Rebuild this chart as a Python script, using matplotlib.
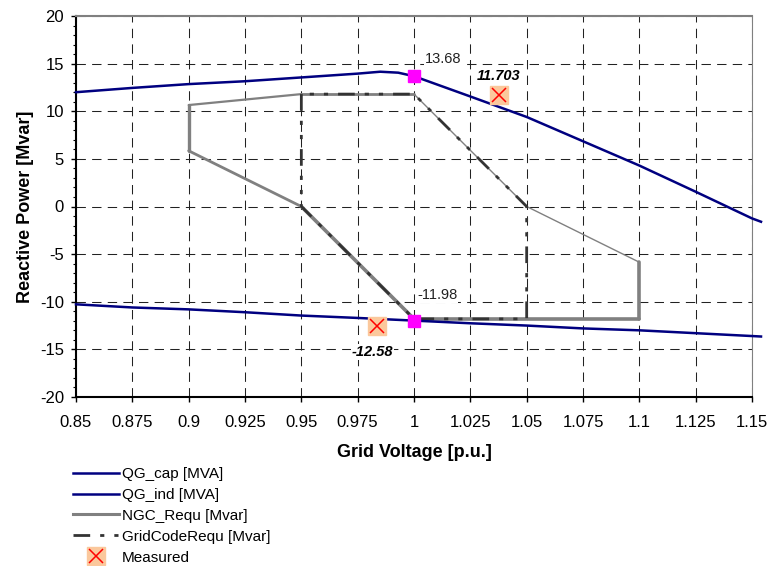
import matplotlib
matplotlib.use("Agg")
import matplotlib.pyplot as plt
from matplotlib.collections import LineCollection
import numpy as np

plt.rcParams['font.family'] = ['Liberation Sans', 'DejaVu Sans']
plt.rcParams['axes.unicode_minus'] = False

# capability curves
qcap_v = [0.85, 0.875, 0.9, 0.925, 0.95, 0.975, 0.985, 0.993, 1.0, 1.025, 1.05, 1.075, 1.1, 1.125, 1.15, 1.154]
qcap_q = [12.0, 12.45, 12.85, 13.15, 13.55, 13.95, 14.15, 14.05, 13.68, 11.55, 9.4, 6.85, 4.3, 1.55, -1.25, -1.6]

qind_v = [0.85, 0.875, 0.9, 0.925, 0.95, 0.975, 1.0, 1.025, 1.05, 1.075, 1.1, 1.125, 1.15, 1.154]
qind_q = [-10.27, -10.6, -10.8, -11.1, -11.45, -11.7, -11.98, -12.26, -12.5, -12.8, -13.0, -13.3, -13.6, -13.65]

# NGC requirement polygon
ngc_v = [0.9, 0.95, 1.0, 1.05, 1.1, 1.1, 1.0, 0.95, 0.9, 0.9]
ngc_q = [10.65, 11.8, 11.8, 0.0, -5.85, -11.8, -11.8, 0.0, 5.85, 10.65]
ngc_lw = [1.6, 2.0, 1.0, 1.0, 2.6, 2.6, 2.6, 2.0, 2.4]   # width per segment

# grid code requirement
gc_v = [0.95, 0.95, 1.0, 1.05, 1.05, 1.0, 0.95]
gc_q = [11.8, 0.0, -11.8, -11.8, 0.0, 11.8, 11.8]

# operating points
op_v = [1.0, 1.0]
op_q = [13.68, -11.98]
meas_v = [1.0376, 0.9838]
meas_q = [11.703, -12.58]

xticks = [0.85, 0.875, 0.9, 0.925, 0.95, 0.975, 1.0, 1.025, 1.05, 1.075, 1.1, 1.125, 1.15]
xtick_labels = ['0.85', '0.875', '0.9', '0.925', '0.95', '0.975', '1', '1.025', '1.05', '1.075', '1.1', '1.125', '1.15']
yticks = [-20, -15, -10, -5, 0, 5, 10, 15, 20]

fig = plt.figure(figsize=(7.68, 5.66), dpi=100)
ax = fig.add_axes([76/768, 1-397/566, 676/768, 381/566])

ax.set_xlim(0.85, 1.15)
ax.set_ylim(-20, 20)
ax.set_xticks(xticks)
ax.set_xticklabels(xtick_labels)
ax.set_yticks(yticks)
ax.set_yticks(np.arange(-20, 21, 1), minor=True)
ax.tick_params(axis='both', which='major', labelsize=12, length=3.6, width=1, direction='out')
ax.tick_params(axis='x', which='major', pad=9.5)
ax.tick_params(axis='y', which='major', pad=5)
ax.tick_params(axis='y', which='minor', length=2.2, width=0.8, direction='out')
ax.grid(True, which='major', color='#222222', linestyle=(0, (9, 6)), linewidth=0.75)
ax.set_axisbelow(True)

for s in ['left', 'bottom']:
    ax.spines[s].set_color('black')
    ax.spines[s].set_linewidth(1.5)
ax.spines['top'].set_color('#808080')
ax.spines['top'].set_linewidth(1.5)
ax.spines['right'].set_color('#808080')
ax.spines['right'].set_linewidth(0.8)

# NGC polygon with varying segment widths
pts = np.column_stack([ngc_v, ngc_q])
segs = [pts[i:i+2] for i in range(len(pts)-1)]
lc = LineCollection(segs, colors='#808080', linewidths=ngc_lw, zorder=3, capstyle='round')
ax.add_collection(lc)
ngc_handle, = ax.plot([], [], color='#808080', lw=2.2, label='NGC_Requ [Mvar]')

gc_line, = ax.plot(gc_v, gc_q, color='#333333', lw=2.0, linestyle=(0, (6, 3.6, 1.5, 3.6, 1.5, 3.6)),
                   zorder=4, label='GridCodeRequ [Mvar]')

cap_line, = ax.plot(qcap_v, qcap_q, color='#000080', lw=1.8, zorder=5, clip_on=False, label='QG_cap [MVA]')
ind_line, = ax.plot(qind_v, qind_q, color='#000080', lw=1.8, zorder=5, clip_on=False, label='QG_ind [MVA]')

ax.plot(op_v, op_q, linestyle='none', marker='s', markersize=8, color='#FF00FF', zorder=7)

m_sq, = ax.plot(meas_v, meas_q, linestyle='none', marker='s', markersize=12.5, color='#FBC89C', zorder=6)
m_x, = ax.plot(meas_v, meas_q, linestyle='none', marker='x', markersize=10, markeredgewidth=1.1,
               color='#FF0000', zorder=6)

# value labels
ax.annotate('13.68', (op_v[0], op_q[0]), xytext=(7.9, 12.2), textcoords='offset points',
            ha='left', va='center', fontsize=10.5, color='#222222',
            bbox=dict(facecolor='white', edgecolor='none', pad=0.5), zorder=8)
ax.annotate('-11.98', (op_v[1], op_q[1]), xytext=(2.2, 18.4), textcoords='offset points',
            ha='left', va='center', fontsize=10.5, color='#222222',
            bbox=dict(facecolor='white', edgecolor='none', pad=0.5), zorder=8)
ax.annotate('11.703', (meas_v[0], meas_q[0]), xytext=(0, 13.7), textcoords='offset points',
            ha='center', va='center', fontsize=10.5, fontweight='bold', fontstyle='italic',
            color='black', bbox=dict(facecolor='white', edgecolor='none', pad=0.5), zorder=8)
ax.annotate('-12.58', (meas_v[1], meas_q[1]), xytext=(-3.5, -18.5), textcoords='offset points',
            ha='center', va='center', fontsize=10.5, fontweight='bold', fontstyle='italic',
            color='black', bbox=dict(facecolor='white', edgecolor='none', pad=0.5), zorder=8)

ax.set_xlabel('Grid Voltage [p.u.]', fontsize=13, fontweight='bold', labelpad=10)
ax.set_ylabel('Reactive Power [Mvar]', fontsize=13, fontweight='bold', labelpad=4)

fig.legend([cap_line, ind_line, ngc_handle, gc_line, (m_sq, m_x)],
           ['QG_cap [MVA]', 'QG_ind [MVA]', 'NGC_Requ [Mvar]', 'GridCodeRequ [Mvar]', 'Measured'],
           loc='upper left', bbox_to_anchor=(73/768, 1-467/566), frameon=False, fontsize=11,
           handlelength=3.0, handletextpad=0.2, labelspacing=0.45, borderaxespad=0, borderpad=0)

fig.savefig('out.png', dpi=100)
